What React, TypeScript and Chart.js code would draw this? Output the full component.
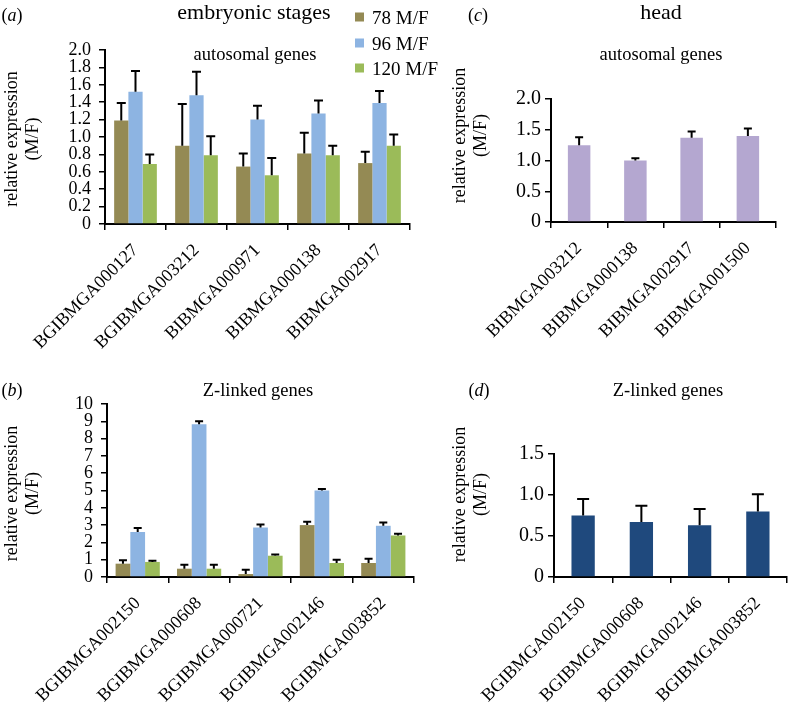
import React, { useEffect, useRef } from 'react';
import { Chart, registerables } from 'chart.js';

Chart.register(...registerables);

const FONT = "'Liberation Serif', 'Times New Roman', serif";

// ---------- data ----------
const seriesLabels = ['78 M/F', '96 M/F', '120 M/F'];
const headLabel = 'head';

// (a) embryonic stages, autosomal genes
const embryoAutoGenes = ['BGIBMGA000127', 'BGIBMGA003212', 'BIBMGA000971', 'BIBMGA000138', 'BIBMGA002917'];
const embryoAuto78 = [1.19, 0.9, 0.66, 0.81, 0.7];
const embryoAuto78Err = [0.2, 0.48, 0.15, 0.24, 0.13];
const embryoAuto96 = [1.52, 1.48, 1.2, 1.27, 1.39];
const embryoAuto96Err = [0.24, 0.27, 0.16, 0.15, 0.14];
const embryoAuto120 = [0.69, 0.79, 0.56, 0.79, 0.9];
const embryoAuto120Err = [0.11, 0.22, 0.2, 0.11, 0.13];

// (b) embryonic stages, Z-linked genes
const embryoZGenes = ['BGIBMGA002150', 'BGIBMGA000608', 'BGIBMGA000721', 'BGIBMGA002146', 'BGIBMGA003852'];
const embryoZ78 = [0.77, 0.48, 0.17, 3.0, 0.81];
const embryoZ78Err = [0.2, 0.23, 0.25, 0.19, 0.25];
const embryoZ96 = [2.6, 8.83, 2.86, 5.0, 2.96];
const embryoZ96Err = [0.23, 0.17, 0.18, 0.08, 0.19];
const embryoZ120 = [0.87, 0.48, 1.23, 0.81, 2.4];
const embryoZ120Err = [0.07, 0.23, 0.07, 0.19, 0.1];

// (c) head, autosomal genes
const headAutoGenes = ['BIBMGA003212', 'BIBMGA000138', 'BIBMGA002917', 'BIBMGA001500'];
const headAuto = [1.25, 1.0, 1.37, 1.4];
const headAutoErr = [0.13, 0.035, 0.1, 0.12];

// (d) head, Z-linked genes
const headZGenes = ['BGIBMGA002150', 'BGIBMGA000608', 'BGIBMGA002146', 'BGIBMGA003852'];
const headZ = [0.75, 0.67, 0.63, 0.8];
const headZErr = [0.2, 0.2, 0.2, 0.21];

// tick settings
const ticksA = { max: 2, step: 0.2 };
const ticksB = { max: 10, step: 1 };
const ticksC = { max: 2, step: 0.5 };
const ticksD = { max: 1.5, step: 0.5 };

const yTitle = ['relative expression', '(M/F)'];

// ---------- styles ----------
const seriesColors = ['#948A54', '#8DB4E2', '#9BBB59'];
const headAutoColor = '#B4A7D0';
const headZColor = '#1F497D';

// ---------- plugins ----------
const errorBarPlugin = {
  id: 'errorBars',
  afterDatasetsDraw(chart: any, _args: any, opts: any) {
    const y = chart.scales.y;
    const ctx = chart.ctx;
    const cap = opts.cap ?? 9;
    chart.data.datasets.forEach((ds: any, i: number) => {
      const errs = ds.errors;
      if (!errs) return;
      const meta = chart.getDatasetMeta(i);
      meta.data.forEach((bar: any, j: number) => {
        const v = ds.data[j];
        const yTop = y.getPixelForValue(v + errs[j]);
        const yBar = y.getPixelForValue(v);
        ctx.save();
        ctx.strokeStyle = '#000';
        ctx.lineWidth = 2;
        ctx.beginPath();
        ctx.moveTo(bar.x, yBar);
        ctx.lineTo(bar.x, yTop);
        ctx.moveTo(bar.x - cap / 2, yTop);
        ctx.lineTo(bar.x + cap / 2, yTop);
        ctx.stroke();
        ctx.restore();
      });
    });
  },
};

const sideTitlePlugin = {
  id: 'sideTitle',
  afterDraw(chart: any, _args: any, opts: any) {
    if (!opts || !opts.lines) return;
    const ctx = chart.ctx;
    const area = chart.chartArea;
    const cy = (area.top + area.bottom) / 2 + (opts.dy || 0);
    ctx.save();
    ctx.translate(opts.x, cy);
    ctx.rotate(-Math.PI / 2);
    ctx.textAlign = 'center';
    ctx.textBaseline = 'middle';
    ctx.fillStyle = '#000';
    ctx.font = `${opts.size}px ${FONT}`;
    const n = opts.lines.length;
    opts.lines.forEach((l: string, i: number) => {
      ctx.fillText(l, 0, (i - (n - 1) / 2) * opts.lineHeight);
    });
    ctx.restore();
  },
};

function makeConfig(p: any) {
  return {
    type: 'bar',
    data: { labels: p.labels, datasets: p.datasets },
    options: {
      responsive: false,
      animation: false,
      layout: { padding: p.padding },
      plugins: {
        legend: { display: false },
        tooltip: { enabled: false },
        errorBars: { cap: p.cap },
        sideTitle: { lines: yTitle, x: p.titleX, dy: p.titleDy, size: 18, lineHeight: 21 },
      },
      datasets: { bar: { categoryPercentage: p.groupPct, barPercentage: 1 } },
      scales: {
        x: {
          grid: { drawOnChartArea: false, drawTicks: true, tickLength: 6, color: '#000', lineWidth: 1.5, offset: true },
          border: { display: true, color: '#000', width: 2 },
          ticks: {
            autoSkip: false,
            maxRotation: 45,
            minRotation: 45,
            padding: 10,
            color: '#000',
            font: { family: FONT, size: 18 },
          },
          afterFit: (s: any) => {
            s.height = p.xHeight;
          },
        },
        y: {
          min: 0,
          max: p.max,
          grid: { drawOnChartArea: false, drawTicks: true, tickLength: 6, color: '#000', lineWidth: 1.5 },
          border: { display: true, color: '#000', width: 2 },
          ticks: {
            autoSkip: false,
            stepSize: p.step,
            padding: p.tickPad,
            color: '#000',
            font: { family: FONT, size: p.tickSize },
            callback: (v: any) => (v === 0 ? '0' : p.step < 1 ? Number(v).toFixed(1) : String(v)),
          },
          afterFit: (s: any) => {
            s.width = p.yWidth;
          },
        },
      },
    },
    plugins: [errorBarPlugin, sideTitlePlugin],
  };
}

function ChartCanvas({ left, top, width, height, config }: any) {
  const ref = useRef<HTMLCanvasElement | null>(null);
  useEffect(() => {
    const chart = new Chart(ref.current as HTMLCanvasElement, config as any);
    return () => chart.destroy();
  }, []);
  return (
    <canvas
      ref={ref}
      width={width}
      height={height}
      style={{ position: 'absolute', left, top, width, height }}
    />
  );
}

function Label({ x, y, size, children, italic }: any) {
  return (
    <div
      style={{
        position: 'absolute',
        left: x,
        top: y,
        transform: 'translate(-50%, -50%)',
        fontFamily: FONT,
        fontSize: size,
        lineHeight: 1,
        whiteSpace: 'nowrap',
        color: '#000',
        fontStyle: italic ? 'italic' : 'normal',
      }}
    >
      {children}
    </div>
  );
}

const tripleSets = (v78: number[], e78: number[], v96: number[], e96: number[], v120: number[], e120: number[]) => [
  { label: seriesLabels[0], data: v78, errors: e78, backgroundColor: seriesColors[0], borderWidth: 0 },
  { label: seriesLabels[1], data: v96, errors: e96, backgroundColor: seriesColors[1], borderWidth: 0 },
  { label: seriesLabels[2], data: v120, errors: e120, backgroundColor: seriesColors[2], borderWidth: 0 },
];

const configA = makeConfig({
  labels: embryoAutoGenes,
  datasets: tripleSets(embryoAuto78, embryoAuto78Err, embryoAuto96, embryoAuto96Err, embryoAuto120, embryoAuto120Err),
  max: ticksA.max,
  step: ticksA.step,
  yWidth: 105,
  xHeight: 136,
  padding: { top: 50, right: 10, left: 0, bottom: 0 },
  tickSize: 18,
  tickPad: 8,
  groupPct: 0.7,
  cap: 9,
  titleX: 23,
  titleDy: 2,
});

const configB = makeConfig({
  labels: embryoZGenes,
  datasets: tripleSets(embryoZ78, embryoZ78Err, embryoZ96, embryoZ96Err, embryoZ120, embryoZ120Err),
  max: ticksB.max,
  step: ticksB.step,
  yWidth: 107,
  xHeight: 131,
  padding: { top: 44, right: 6, left: 0, bottom: 0 },
  tickSize: 18,
  tickPad: 8,
  groupPct: 0.72,
  cap: 8,
  titleX: 23,
  titleDy: 3,
});

const configC = makeConfig({
  labels: headAutoGenes,
  datasets: [{ label: headLabel, data: headAuto, errors: headAutoErr, backgroundColor: headAutoColor, borderWidth: 0 }],
  max: ticksC.max,
  step: ticksC.step,
  yWidth: 131,
  xHeight: 138,
  padding: { top: 99, right: 12, left: 0, bottom: 0 },
  tickSize: 20,
  tickPad: 4,
  groupPct: 0.4,
  cap: 8,
  titleX: 51,
  titleDy: -25,
});

const configD = makeConfig({
  labels: headZGenes,
  datasets: [{ label: headLabel, data: headZ, errors: headZErr, backgroundColor: headZColor, borderWidth: 0 }],
  max: ticksD.max,
  step: ticksD.step,
  yWidth: 134,
  xHeight: 131,
  padding: { top: 94, right: 1, left: 0, bottom: 0 },
  tickSize: 20,
  tickPad: 4,
  groupPct: 0.4,
  cap: 12,
  titleX: 51,
  titleDy: -21,
});

export default function App() {
  return (
    <div
      style={{
        position: 'absolute',
        left: 0,
        top: 0,
        width: 788,
        height: 708,
        background: '#fff',
        overflow: 'hidden',
      }}
    >
      <ChartCanvas left={0} top={0} width={420} height={360} config={configA} />
      <ChartCanvas left={0} top={360} width={420} height={348} config={configB} />
      <ChartCanvas left={420} top={0} width={368} height={360} config={configC} />
      <ChartCanvas left={420} top={360} width={368} height={348} config={configD} />

      <Label x={12} y={15} size={18}>(<i>a</i>)</Label>
      <Label x={12} y={390} size={18}>(<i>b</i>)</Label>
      <Label x={478} y={15} size={18}>(<i>c</i>)</Label>
      <Label x={479} y={390} size={18}>(<i>d</i>)</Label>

      <Label x={254} y={12} size={22}>embryonic stages</Label>
      <Label x={661} y={12} size={22}>{headLabel}</Label>
      <Label x={255} y={54} size={18.5}>autosomal genes</Label>
      <Label x={661} y={54} size={18.5}>autosomal genes</Label>
      <Label x={258} y={390} size={18.5}>Z-linked genes</Label>
      <Label x={668} y={390} size={18.5}>Z-linked genes</Label>

      {seriesLabels.map((s, i) => (
        <div
          key={s}
          style={{
            position: 'absolute',
            left: 355,
            top: 17 + i * 25.5,
            transform: 'translateY(-50%)',
            display: 'flex',
            alignItems: 'center',
            fontFamily: FONT,
            fontSize: 19,
            lineHeight: 1,
            whiteSpace: 'nowrap',
          }}
        >
          <span style={{ display: 'inline-block', width: 9, height: 9, background: seriesColors[i], marginRight: 8 }} />
          <span>{s}</span>
        </div>
      ))}
    </div>
  );
}
